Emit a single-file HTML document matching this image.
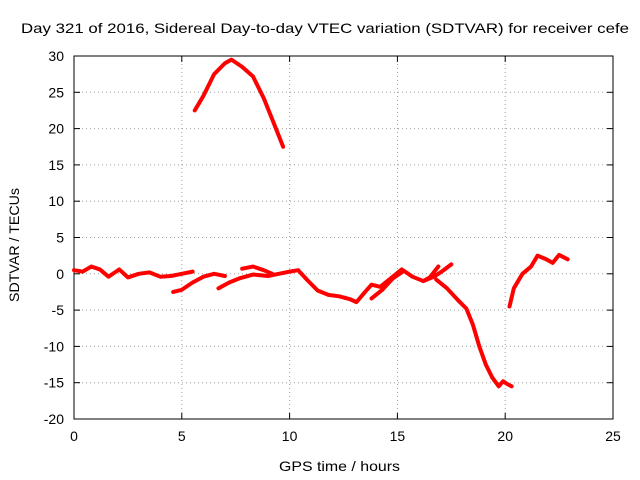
<!DOCTYPE html>
<html><head><meta charset="utf-8"><style>body{margin:0;background:#fff}svg{display:block}text{font-family:"Liberation Sans",sans-serif;font-size:14px;fill:#000}</style></head>
<body>
<svg id="chart" width="640" height="480" xmlns="http://www.w3.org/2000/svg">
<text x="21" y="33" textLength="608" lengthAdjust="spacingAndGlyphs">Day 321 of 2016, Sidereal Day-to-day VTEC variation (SDTVAR) for receiver cefe</text>
<g id="grid"></g>
<g id="axes"></g>
<g id="series"></g>
<text x="279" y="471" textLength="121" lengthAdjust="spacingAndGlyphs">GPS time / hours</text>
<text transform="translate(19,302) rotate(-90)" textLength="114" lengthAdjust="spacingAndGlyphs">SDTVAR / TECUs</text>
</svg>
<script>
const xTicks=[0,5,10,15,20,25];
const yTicks=[-20,-15,-10,-5,0,5,10,15,20,25,30];
const seg1=[[0,0.5],[0.4,0.3],[0.8,1],[1.2,0.6],[1.6,-0.4],[1.9,0.2],[2.1,0.6],[2.5,-0.5],[3,0],[3.5,0.2],[4,-0.4],[4.5,-0.3],[5,0],[5.5,0.3]];
const seg2=[[4.6,-2.5],[5,-2.2],[5.5,-1.2],[6,-0.4],[6.5,0],[7,-0.3]];
const seg3=[[6.7,-2],[7.2,-1.2],[7.7,-0.6],[8.3,-0.1],[9,-0.3],[9.5,0],[10,0.3],[10.4,0.5],[10.8,-0.8],[11.3,-2.3],[11.8,-2.9],[12.3,-3.1],[12.8,-3.5],[13.1,-3.9],[13.5,-2.5],[13.8,-1.5],[14.2,-1.8],[14.7,-0.6],[15.2,0.6],[15.7,-0.4],[16.2,-1],[16.7,-0.4],[17.1,0.4],[17.5,1.3]];
const seg4=[[7.8,0.7],[8.3,1],[8.8,0.5],[9.2,0]];
const seg5=[[13.8,-3.4],[14.3,-2.2],[14.8,-0.6],[15.2,0.2]];
const seg6=[[16.2,-1],[16.5,-0.5],[16.9,1]];
const seg7=[[16.8,-0.8],[17.3,-2],[17.8,-3.6],[18.2,-4.8],[18.5,-7],[18.8,-10],[19.1,-12.5],[19.4,-14.3],[19.7,-15.5],[19.9,-14.8],[20.1,-15.2],[20.3,-15.5]];
const seg8=[[5.6,22.5],[6,24.5],[6.5,27.5],[7,29],[7.3,29.5],[7.8,28.5],[8.3,27.2],[8.8,24.2],[9.3,20.5],[9.7,17.5]];
const seg9=[[20.2,-4.5],[20.4,-2],[20.8,0],[21.2,1],[21.5,2.5],[21.9,2],[22.2,1.5],[22.5,2.6],[22.9,2]];
const allSegs=[seg1,seg2,seg3,seg4,seg5,seg6,seg7,seg8,seg9];
const L=74,R=613,T=56,B=419;
const xs=v=>L+(v-0)/25*(R-L);
const ys=v=>B-(v+20)/50*(B-T);
const NS="http://www.w3.org/2000/svg";
function mk(p,t,a){const e=document.createElementNS(NS,t);for(const k in a)e.setAttribute(k,a[k]);p.appendChild(e);return e;}
const grid=document.getElementById('grid'),axes=document.getElementById('axes'),ser=document.getElementById('series');
xTicks.forEach(t=>{const x=xs(t);
 if(t>0&&t<25){const g=mk(grid,'line',{x1:x,x2:x,y1:T,y2:B,stroke:'#a0a0a0','stroke-dasharray':'1,3'});
 }
 mk(axes,'line',{x1:x,x2:x,y1:B,y2:B-6,stroke:'#000'});mk(axes,'line',{x1:x,x2:x,y1:T,y2:T+6,stroke:'#000'});
 const tx=mk(axes,'text',{x:x,y:B+22,'text-anchor':'middle'});tx.textContent=t;
 });
yTicks.forEach(t=>{const y=ys(t);
 if(t>-20&&t<30){const g=mk(grid,'line',{x1:L,x2:R,y1:y,y2:y,stroke:'#a0a0a0','stroke-dasharray':'1,3'});
 }
 mk(axes,'line',{x1:L,x2:L+6,y1:y,y2:y,stroke:'#000'});mk(axes,'line',{x1:R,x2:R-6,y1:y,y2:y,stroke:'#000'});
 const tx=mk(axes,'text',{x:L-10,y:y+5,'text-anchor':'end'});tx.textContent=t;
 });
mk(axes,'rect',{x:L,y:T,width:R-L,height:B-T,fill:'none',stroke:'#000'});
allSegs.forEach(s=>{const pl=mk(ser,'polyline',{points:s.map(p=>xs(p[0])+','+ys(p[1])).join(' '),fill:'none',stroke:'#ff0000','stroke-width':4,'stroke-linejoin':'round','stroke-linecap':'round'});
 });
</script>
</body></html>
